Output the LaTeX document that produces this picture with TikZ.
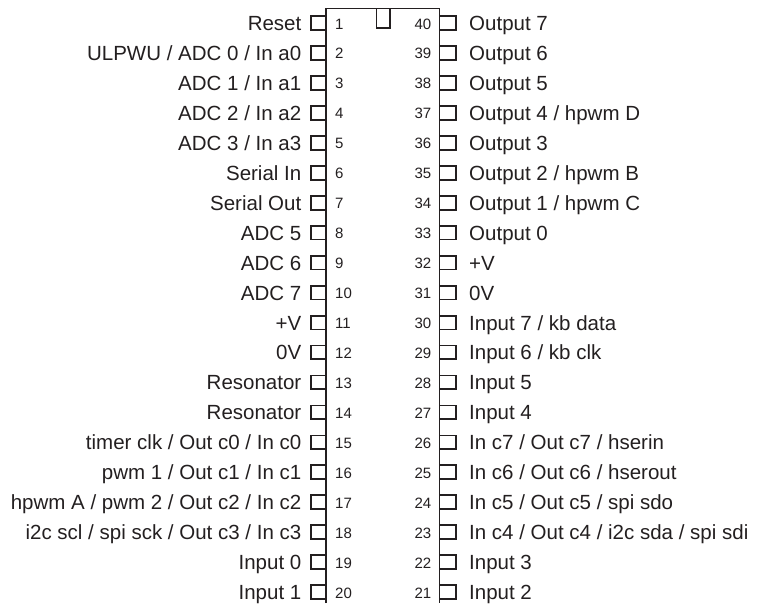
\documentclass[tikz,border=0pt]{standalone}
\usepackage{fontspec}
\setmainfont{Liberation Sans}
\definecolor{ink}{HTML}{231F20}
\tikzset{
  x=1pt,y=-1pt,
  pinbox/.style={draw=ink,line width=1.8pt,line join=miter},
  body/.style={draw=ink,line width=1.8pt},
  pinlabel/.style={text=ink,font=\fontsize{20.5}{24}\selectfont,inner sep=0pt},
  pinnum/.style={text=ink,font=\fontsize{15}{18}\selectfont,inner sep=0pt},
}
\begin{document}
\begin{tikzpicture}
\useasboundingbox (0,0) rectangle (765,603);
\draw[body] (326,603) -- (326,8.5) -- (439.5,8.5) -- (439.5,603);
\draw[pinbox] (376.5,8.5) -- (376.5,28) -- (390,28) -- (390,8.5);
\foreach \n/\t [count=\i from 0] in {
 1/Reset,2/{ULPWU / ADC 0 / In a0},3/{ADC 1 / In a1},4/{ADC 2 / In a2},5/{ADC 3 / In a3},
 6/Serial In,7/Serial Out,8/ADC 5,9/ADC 6,10/ADC 7,11/+V,12/0V,13/Resonator,14/Resonator,
 15/{timer clk / Out c0 / In c0},16/{pwm 1 / Out c1 / In c1},17/{hpwm A / pwm 2 / Out c2 / In c2},
 18/{i2c scl / spi sck / Out c3 / In c3},19/Input 0,20/Input 1}{
  \pgfmathsetmacro{\yy}{23+29.95*\i}
  \draw[pinbox] (326,\yy-6.9) -- (311,\yy-6.9) -- (311,\yy+6.9) -- (326,\yy+6.9);
  \node[pinlabel,anchor=base east] (L\n) at (301.5,\yy+7.5) {\t};
  \node[pinnum,anchor=base west] (N\n) at (335,\yy+6) {\n};
}
\foreach \n/\t [count=\i from 0] in {
 40/Output 7,39/Output 6,38/Output 5,37/{Output 4 / hpwm D},36/Output 3,35/{Output 2 / hpwm B},
 34/{Output 1 / hpwm C},33/Output 0,32/+V,31/0V,30/{Input 7 / kb data},29/{Input 6 / kb clk},
 28/Input 5,27/Input 4,26/{In c7 / Out c7 / hserin},25/{In c6 / Out c6 / hserout},
 24/{In c5 / Out c5 / spi sdo},23/{In c4 / Out c4 / i2c sda / spi sdi},22/Input 3,21/Input 2}{
  \pgfmathsetmacro{\yy}{23+29.95*\i}
  \draw[pinbox] (439.5,\yy-6.9) -- (456,\yy-6.9) -- (456,\yy+6.9) -- (439.5,\yy+6.9);
  \node[pinlabel,anchor=base west] (R\n) at (469,\yy+7.5) {\t};
  \node[pinnum,anchor=base east] (N\n) at (431.5,\yy+6) {\n};
}
\end{tikzpicture}
\end{document}
